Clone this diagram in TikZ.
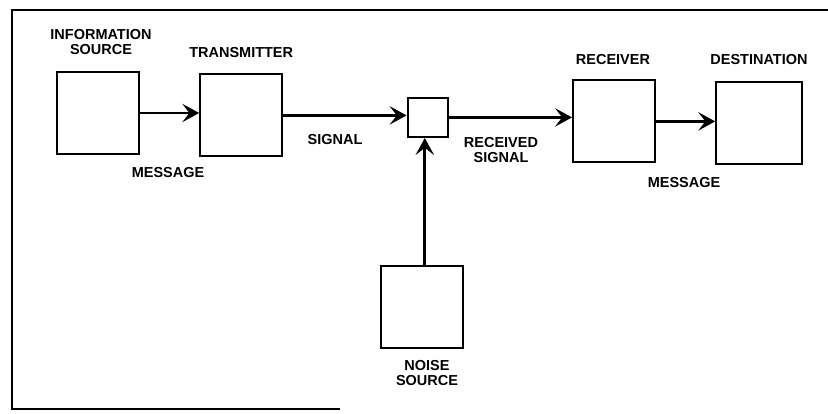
\documentclass[tikz,border=0pt]{standalone}
\usepackage{fontspec}
\setmainfont{Liberation Sans}
\usetikzlibrary{arrows.meta, positioning}
\tikzset{
    % Box styles - plain squares
    block/.style={
        rectangle,
        draw=black,
        fill=white,
        line width=1.4pt,
        minimum width=2.05cm,
        minimum height=2.05cm,
        inner sep=0pt
    },
    smallblock/.style={
        block,
        minimum width=1cm,
        minimum height=0.98cm
    },
    label/.style={
        align=center,
        inner sep=0pt,
        font=\fontsize{10.3}{10.9}\selectfont\bfseries
    },
    % Arrow style
    arrow/.style={
        -{Stealth[length=12pt,width=13pt,inset=5pt]},
        line width=2pt,
        draw=black
    },
    frame/.style={
        line width=0.9pt,
        draw=black
    }
}
\begin{document}
\begin{tikzpicture}
    \useasboundingbox (0,0) rectangle (20.7,10.325);

    % page frame of the scan
    \draw[frame] (20.7,10.075) -- (0.3,10.075) -- (0.3,0.1) -- (8.5,0.1);

    \node[block] (info) at (2.44,7.50) {};
    \node[block] (trans) at (6.03,7.44) {};
    \node[smallblock] (mix) at (10.69,7.39) {};
    \node[block] (recv) at (15.35,7.29) {};
    \node[block, minimum width=2.15cm] (dest) at (18.98,7.26) {};
    \node[block] (noise) at (10.56,2.66) {};

    \node[label] (infolbl) at (2.525,9.275) {INFORMATION\\SOURCE};
    \node[label] (translbl) at (6.03,9.0) {TRANSMITTER};
    \node[label] (msg1) at (4.2,6.0) {MESSAGE};
    \node[label] (sig) at (8.375,6.825) {SIGNAL};
    \node[label] (rsig) at (12.525,6.575) {RECEIVED\\SIGNAL};
    \node[label] (recvlbl) at (15.325,8.825) {RECEIVER};
    \node[label] (destlbl) at (18.975,8.825) {DESTINATION};
    \node[label] (msg2) at (17.1,5.75) {MESSAGE};
    \node[label] (noiselbl) at (10.675,1.0) {NOISE\\SOURCE};

    \draw[arrow] (info.east) -- (info.east -| trans.west);
    \draw[arrow] (trans.east) -- (trans.east -| mix.west);
    \draw[arrow] (mix.east) -- (mix.east -| recv.west);
    \draw[arrow] (recv.east) -- (recv.east -| dest.west);
    \draw[arrow] ([xshift=0.06cm]noise.north) -- ([xshift=0.06cm]noise.north |- mix.south);
\end{tikzpicture}
\end{document}
